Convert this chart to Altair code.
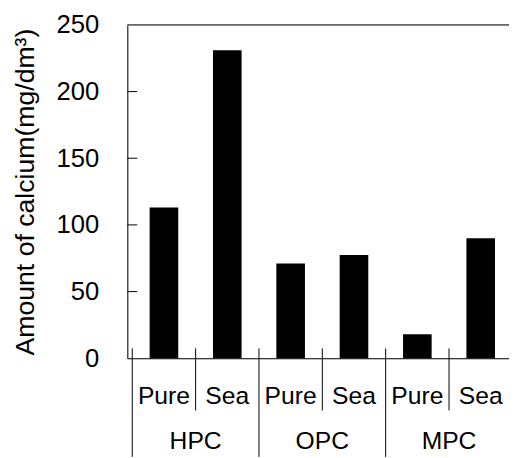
import altair as alt
import pandas as pd

# ---- data ----
groups = ["HPC", "HPC", "OPC", "OPC", "MPC", "MPC"]
waters = ["Pure", "Sea", "Pure", "Sea", "Pure", "Sea"]
calcium = [113, 231, 71, 77.5, 18, 90]
group_names = ["HPC", "OPC", "MPC"]
y_ticks = [0, 50, 100, 150, 200, 250]

W, H = 387, 338
FONT = "Liberation Sans"

positions = [i + 0.5 for i in range(len(waters))]
bars_df = pd.DataFrame({"pos": positions, "water": waters, "group": groups, "calcium": calcium})
group_df = pd.DataFrame({"pos": [1, 3, 5], "group": group_names})
sub_sep_df = pd.DataFrame({"pos": [1, 3, 5]})
grp_sep_df = pd.DataFrame({"pos": [0, 2, 4]})
inner_ticks_df = pd.DataFrame({"calcium": [t for t in y_ticks if 0 < t < 250]})
top_df = pd.DataFrame({"calcium": [250]})

xs = alt.Scale(domain=[0, 5.869], nice=False, zero=False)
ys = alt.Scale(domain=[0, 250], nice=False)

x_axis = alt.Axis(labels=False, ticks=False, grid=False, title=None,
                  domainColor="black", domainWidth=1)
y_axis = alt.Axis(values=y_ticks, ticks=False, grid=False,
                  labelPadding=29, labelFontSize=26, labelColor="black",
                  labelFont=FONT, title="Amount of calcium(mg/dm³)",
                  titleFontSize=27, titleFontWeight="normal", titleFont=FONT,
                  titleColor="black", titlePadding=17,
                  domainColor="black", domainWidth=1)

X = alt.X("pos:Q", scale=xs, axis=x_axis)
Y = alt.Y("calcium:Q", scale=ys, axis=y_axis)

bars = alt.Chart(bars_df).mark_bar(color="black", size=29).encode(x=X, y=Y)

top_line = alt.Chart(top_df).mark_rule(color="black", strokeWidth=1).encode(y=Y)

inner_ticks = alt.Chart(inner_ticks_df).mark_rule(color="black", strokeWidth=1).encode(
    y=Y, x=alt.value(0), x2=alt.value(10),
)

sub_sep = alt.Chart(sub_sep_df).mark_rule(color="black", strokeWidth=1).encode(
    x=X, y=alt.value(H - 10), y2=alt.value(H + 53),
)

grp_sep = alt.Chart(grp_sep_df).mark_rule(color="black", strokeWidth=1).encode(
    x=X, y=alt.value(H - 10), y2=alt.value(H + 100),
)

sub_labels = alt.Chart(bars_df).mark_text(
    fontSize=25, font=FONT, color="black", baseline="alphabetic", align="center"
).encode(x=X, y=alt.value(H + 46), text="water:N")

grp_labels = alt.Chart(group_df).mark_text(
    fontSize=25, font=FONT, color="black", baseline="alphabetic", align="center"
).encode(x=X, y=alt.value(H + 92), text="group:N")

chart = alt.layer(
    bars, top_line, inner_ticks, sub_sep, grp_sep, sub_labels, grp_labels
).properties(
    width=W, height=H,
    autosize=alt.AutoSizeParams(type="none"),
    padding={"left": 121, "top": 14, "right": 0, "bottom": 98},
).configure_view(stroke=None).configure(background="white")

chart.save("out.html", embed_options={"renderer": "svg", "actions": False})
